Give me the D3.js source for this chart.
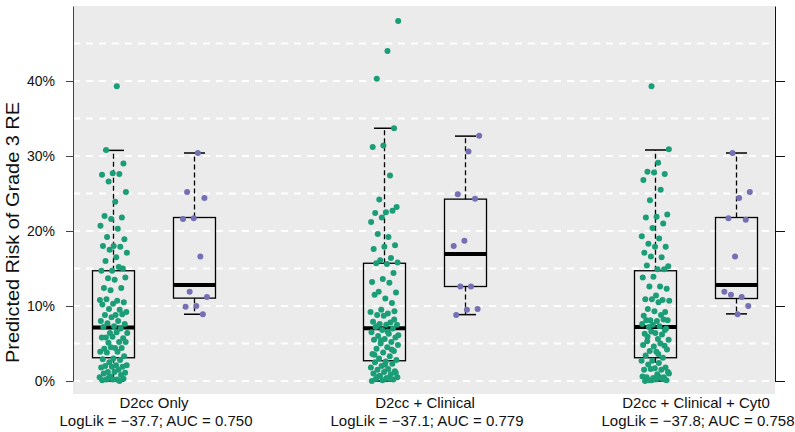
<!DOCTYPE html>
<html><head><meta charset="utf-8">
<script src="https://cdn.jsdelivr.net/npm/d3@7"></script>
<style>body{margin:0;background:#fff}svg{display:block}text{font-family:"Liberation Sans",Arial,Helvetica,sans-serif}</style>
</head><body><svg id="c" width="795" height="432"></svg>
<script>
const categories = ["D2cc Only", "D2cc + Clinical", "D2cc + Clinical + Cyt0"];
const subtitles = ["LogLik = \u221237.7; AUC = 0.750", "LogLik = \u221237.1; AUC = 0.779", "LogLik = \u221237.8; AUC = 0.758"];
const yTicks = [0, 0.1, 0.2, 0.3, 0.4];
const gridValues = [0, 0.05, 0.1, 0.15, 0.2, 0.25, 0.3, 0.35, 0.4, 0.45];

// predicted risk (%) — no event (green)
const noEvent1 = [39.3,30.8,29.0,27.7,27.5,27.6,26.6,25.2,23.9,22.0,21.8,21.6,20.7,20.3,19.2,18.9,18.0,18.0,17.9,17.5,17.1,16.5,16.0,15.0,14.7,14.7,15.2,13.7,13.8,13.5,12.4,12.4,12.1,10.8,10.7,10.9,10.5,10.3,10.2,9.5,9.6,9.2,8.8,8.8,8.9,8.5,8.0,8.0,7.7,7.6,7.3,7.2,7.0,6.4,6.4,6.5,5.8,5.7,5.9,5.8,5.2,5.1,5.2,4.4,4.3,4.4,4.5,3.9,3.9,3.8,3.3,3.0,2.9,2.8,2.5,2.1,2.1,2.0,1.9,1.9,1.8,1.5,1.2,1.1,1.2,1.0,0.8,0.6,0.5,0.2,0.2,0.3,0.2,0.1,0.0,0.4];
const noEvent2 = [48.0,44.0,40.3,33.7,31.4,31.2,27.4,24.2,23.2,22.5,22.4,22.7,21.8,21.2,19.2,19.6,18.1,17.9,17.6,16.4,16.1,15.8,15.6,15.7,14.4,13.6,13.2,13.1,11.9,11.8,11.0,11.5,10.4,9.5,9.2,9.0,8.8,9.3,8.7,7.9,7.8,7.6,7.5,7.5,7.2,7.0,6.8,6.5,6.3,6.0,5.8,5.6,5.5,5.2,5.0,4.8,4.5,4.3,4.0,3.8,3.6,3.3,3.0,2.8,2.6,2.5,2.3,2.0,1.8,1.6,1.5,1.3,1.2,1.0,0.9,0.7,0.5,0.4,0.3,0.2,0.1,0.0,0.3,0.6,1.1,2.2,3.5,4.2,5.4,6.1,6.6,7.3,8.2];
const noEvent3 = [39.3,30.9,29.1,27.9,27.6,27.8,26.8,25.5,24.1,22.2,21.9,21.8,21.0,20.4,19.3,19.0,18.3,17.9,17.9,17.1,16.5,16.6,15.3,14.9,15.4,14.9,13.9,13.8,12.6,12.6,12.3,11.4,10.9,10.8,10.9,10.7,10.5,9.6,9.2,9.3,8.7,8.8,8.1,8.1,8.0,8.1,8.2,7.5,7.6,7.3,7.2,7.0,6.4,6.3,6.2,6.6,5.5,5.6,5.3,4.7,4.6,4.8,5.0,4.0,4.2,3.9,3.4,3.1,2.7,2.7,2.4,2.2,1.8,1.7,1.5,1.5,1.6,1.2,0.9,0.5,0.5,0.4,0.6,0.5,0.1,0.1,0.2,0.0,0.3,0.1,1.0,3.6,5.9,6.8];
// predicted risk (%) — event (purple)
const event1 = [30.4,25.2,24.4,21.7,21.6,16.6,11.9,11.2,10.0,9.9,8.9];
const event2 = [32.7,30.6,24.9,24.3,18.7,18.0,12.6,12.6,9.6,9.5,8.8];
const event3 = [30.4,25.2,24.4,21.7,21.5,16.6,11.9,11.2,11.5,10.0,8.9];

// box statistics (%): [lower whisker, Q1, median, Q3, upper whisker]
const boxNoEvent = [[0.0,3.1,7.15,14.7,30.75],[0.0,2.7,7.05,15.7,33.7],[0.0,3.1,7.2,14.7,30.8]];
const boxEvent = [[8.9,11.05,12.8,21.8,30.4],[8.85,12.6,16.95,24.25,32.65],[8.95,11.0,12.8,21.8,30.4]];

const groupsNo = [noEvent1, noEvent2, noEvent3];
const groupsEv = [event1, event2, event3];
const subgroups = ["no", "yes"];
const colors = {no: "#1B9E77", yes: "#7570B3"};

const svg = d3.select("#c");
const plot = {left: 73, right: 775, top: 6, bottom: 394};
const x = d3.scalePoint().domain(categories).range([154, 696]);
const xSub = d3.scalePoint().domain(subgroups).range([-40.5, 40.5]);
const y = d3.scaleLinear().domain([0, 0.5]).range([381, 6]);

svg.append("rect").attr("x", plot.left).attr("y", plot.top)
  .attr("width", plot.right - plot.left).attr("height", plot.bottom - plot.top)
  .attr("fill", "#ebebeb");

svg.append("g").selectAll("line").data(gridValues).join("line")
  .attr("x1", plot.left).attr("x2", plot.right)
  .attr("y1", d => y(d)).attr("y2", d => y(d))
  .attr("stroke", "#fff").attr("stroke-width", 2).attr("stroke-dasharray", "7,6");

// axes
const yl = svg.append("g").attr("transform", `translate(${plot.left},0)`)
  .call(d3.axisLeft(y).tickValues(yTicks).tickFormat(d3.format(".0%")).tickSize(7).tickSizeOuter(0).tickPadding(11));
yl.selectAll("text").attr("font-size", 14).attr("fill", "#111").attr("font-family", '"Liberation Sans",Arial,sans-serif');
yl.selectAll("line,path").attr("stroke", "#444");
const yr = svg.append("g").attr("transform", `translate(${plot.right},0)`)
  .call(d3.axisRight(y).tickValues(yTicks).tickFormat("").tickSize(10).tickSizeOuter(0));
yr.selectAll("line,path").attr("stroke", "#111");

// boxes
const boxW = 42;
function drawBox(stats, cx) {
  const g = svg.append("g");
  const s = stats.map(v => y(v / 100));
  g.append("line").attr("x1", cx).attr("x2", cx).attr("y1", s[3]).attr("y2", s[4])
    .attr("stroke", "#000").attr("stroke-width", 1.3).attr("stroke-dasharray", "5,3");
  g.append("line").attr("x1", cx).attr("x2", cx).attr("y1", s[1]).attr("y2", s[0])
    .attr("stroke", "#000").attr("stroke-width", 1.3).attr("stroke-dasharray", "5,3");
  [s[0], s[4]].forEach(v => g.append("line").attr("x1", cx - boxW / 4).attr("x2", cx + boxW / 4)
    .attr("y1", v).attr("y2", v).attr("stroke", "#000").attr("stroke-width", 1.5));
  g.append("rect").attr("x", cx - boxW / 2).attr("y", s[3]).attr("width", boxW).attr("height", s[1] - s[3])
    .attr("fill", "none").attr("stroke", "#000").attr("stroke-width", 1.3);
  g.append("line").attr("x1", cx - boxW / 2).attr("x2", cx + boxW / 2).attr("y1", s[2]).attr("y2", s[2])
    .attr("stroke", "#000").attr("stroke-width", 4);
}
categories.forEach((c, i) => {
  drawBox(boxNoEvent[i], x(c) + xSub("no"));
  drawBox(boxEvent[i], x(c) + xSub("yes"));
});

// jittered points (deterministic low-discrepancy jitter)
function jitter(i, k) { return (((i + 1) * 0.6180339887 + k * 0.37) % 1) * 2 - 1; }
categories.forEach((c, gi) => {
  [["no", groupsNo[gi]], ["yes", groupsEv[gi]]].forEach(([sg, vals]) => {
    const cx = x(c) + xSub(sg);
    svg.append("g").selectAll("circle").data(vals).join("circle")
      .attr("cx", (d, i) => cx + jitter(i, gi) * 14)
      .attr("cy", d => y(d / 100))
      .attr("r", 3).attr("fill", colors[sg]);
  });
});

// category labels
const lab = svg.append("g").attr("font-size", 15).attr("fill", "#111").attr("text-anchor", "middle");
categories.forEach((c, i) => {
  lab.append("text").attr("x", x(c)).attr("y", 408).text(c);
  lab.append("text").attr("x", x(c) + 2).attr("y", 426).text(subtitles[i]);
});

svg.append("text").attr("transform", "translate(19,232.5) rotate(-90)")
  .attr("text-anchor", "middle").attr("font-size", 18).attr("fill", "#111")
  .attr("textLength", 261).attr("lengthAdjust", "spacingAndGlyphs")
  .text("Predicted Risk of Grade 3 RE");
</script></body></html>
